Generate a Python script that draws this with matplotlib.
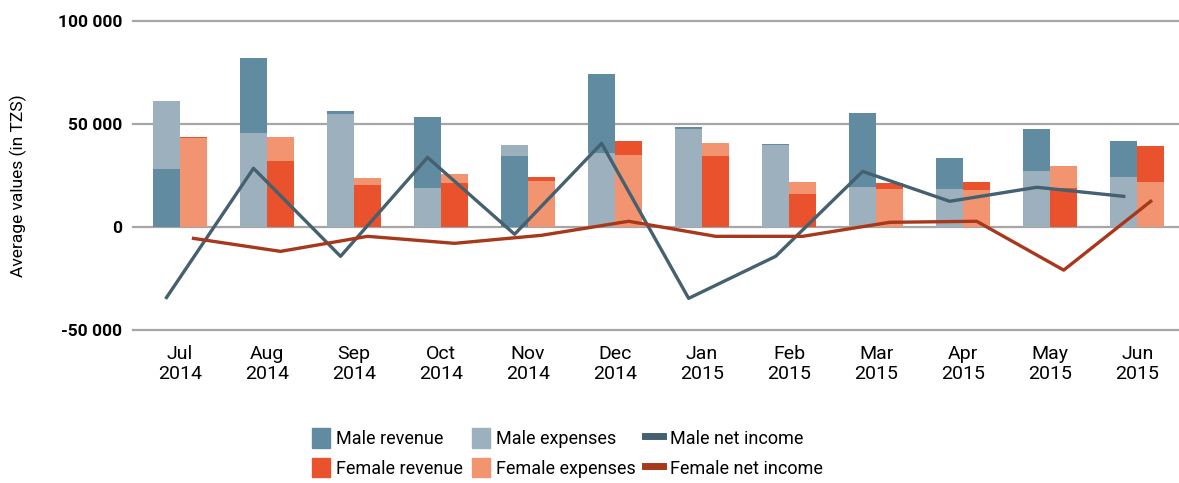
import matplotlib.pyplot as plt
import numpy as np
from matplotlib.patches import Patch
from matplotlib.lines import Line2D

# Average values per month (in TZS)
months = ['Jul\n2014', 'Aug\n2014', 'Sep\n2014', 'Oct\n2014', 'Nov\n2014', 'Dec\n2014',
          'Jan\n2015', 'Feb\n2015', 'Mar\n2015', 'Apr\n2015', 'May\n2015', 'Jun\n2015']

male_revenue = [28000, 82000, 56000, 53400, 34500, 74300, 48500, 40300, 55300, 33500, 47600, 41700]
male_expenses = [61300, 45600, 55000, 19000, 39800, 36000, 47600, 39800, 19400, 18400, 27200, 24300]
female_revenue = [43400, 32000, 20400, 21400, 24300, 41700, 34500, 16000, 21400, 21800, 19000, 39300]
female_expenses = [42900, 43700, 23800, 25700, 22300, 35000, 40800, 21800, 18400, 17900, 29600, 21800]
male_net = [-34300, 28400, -14300, 33700, -3600, 40500, -34700, -14300, 26900, 12400, 19200, 14800]
female_net = [-5600, -11900, -4600, -8000, -4100, 2700, -4600, -4600, 2200, 2700, -21000, 12400]

ytick_vals = [-50000, 0, 50000, 100000]
ytick_labels = ['-50 000', '0', '50 000', '100 000']

C_MREV = '#608ba0'
C_MEXP = '#9cb0be'
C_MNET = '#45606e'
C_FREV = '#e9522c'
C_FEXP = '#f29470'
C_FNET = '#a8381c'

plt.rcParams['font.family'] = ['Roboto', 'DejaVu Sans']


def draw_pair(ax, x, rev, exp, c_rev, c_exp, width):
    '''Overlapping bars: the larger value sits behind, the smaller in front.'''
    rev = np.array(rev)
    exp = np.array(exp)
    back = np.maximum(rev, exp)
    front = np.minimum(rev, exp)
    back_c = [c_rev if r >= e else c_exp for r, e in zip(rev, exp)]
    front_c = [c_exp if r >= e else c_rev for r, e in zip(rev, exp)]
    ax.bar(x, back, width, color=back_c, align='edge', zorder=2, linewidth=0)
    ax.bar(x, front, width, color=front_c, align='edge', zorder=3, linewidth=0)


fig = plt.figure(figsize=(11.79, 4.83), dpi=100)
ax = fig.add_axes([133 / 1179, 0.317, 1 - 133 / 1179, 0.640])

x = np.arange(len(months))
w = 0.31
draw_pair(ax, x - w, male_revenue, male_expenses, C_MREV, C_MEXP, w)
draw_pair(ax, x, female_revenue, female_expenses, C_FREV, C_FEXP, w)

ax.plot(x - w / 2, male_net, color=C_MNET, lw=2.4, zorder=4)
ax.plot(x + w / 2, female_net, color=C_FNET, lw=2.4, zorder=4)

for v in ytick_vals:
    ax.axhline(v, color='#a6a6a6', lw=1.6, zorder=1, clip_on=False)

ax.set_xlim(-0.54, 11.48)
ax.set_ylim(-50000, 100000)
for s in ax.spines.values():
    s.set_visible(False)

ax.set_yticks(ytick_vals)
ax.set_yticklabels(ytick_labels, fontsize=12.5, fontweight='bold')
ax.tick_params(axis='y', length=0, pad=8)
ax.set_xticks(x)
ax.set_xticklabels(months, fontsize=14, linespacing=1.12)
ax.tick_params(axis='x', length=0, pad=11)
ax.set_ylabel('Average values (in TZS)', fontsize=12.5)
ax.yaxis.set_label_coords(-0.101, 0.466)

handles = [Patch(color=C_MREV), Patch(color=C_FREV),
           Patch(color=C_MEXP), Patch(color=C_FEXP),
           Line2D([], [], color=C_MNET, lw=5), Line2D([], [], color=C_FNET, lw=5)]
labels = ['Male revenue', 'Female revenue', 'Male expenses', 'Female expenses',
          'Male net income', 'Female net income']
fig.legend(handles, labels, ncol=3, loc='center', bbox_to_anchor=(0.481, 0.062),
           frameon=False, fontsize=13, handlelength=1.0, handleheight=1.25,
           handletextpad=0.35, columnspacing=0.5, labelspacing=0.55)

fig.savefig('out.png', dpi=100)
